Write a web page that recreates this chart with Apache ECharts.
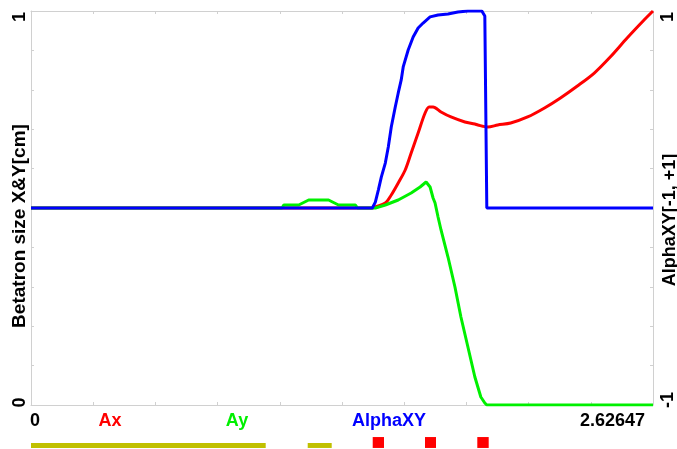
<!DOCTYPE html>
<html><head><meta charset="utf-8">
<script src="https://cdn.jsdelivr.net/npm/echarts@6/dist/echarts.min.js"></script>
<style>html,body{margin:0;padding:0;background:#fff}#c{width:677px;height:449px}</style>
</head><body><div id="c"></div>
<script>
// ---- data ----
const xMax = 2.62647;
// Ax (left axis, 0..1)
const axTrack = [[0,0.5],[1.4414,0.5],[1.4540,0.5025],[1.4961,0.5127],[1.5213,0.5330],[1.5507,0.5635],[1.5801,0.5964],[1.6053,0.6396],[1.6347,0.6904],[1.6641,0.7411],[1.6810,0.7563],[1.6978,0.7563],[1.7314,0.7437],[1.7734,0.7310],[1.8322,0.7183],[1.8743,0.7132],[1.8869,0.7107],[1.9289,0.7056],[1.9709,0.7107],[2.0256,0.7157],[2.0970,0.7310],[2.1684,0.7538],[2.2357,0.7792],[2.3071,0.8096],[2.3785,0.8426],[2.4458,0.8832],[2.5172,0.9315],[2.5887,0.9772],[2.62647,1.0]];
// Ay (left axis, 0..1)
const ayTrack = [[0,0.5],[1.0600,0.5],[1.0674,0.5076],[1.1304,0.5076],[1.1725,0.5203],[1.2565,0.5203],[1.2985,0.5076],[1.3700,0.5076],[1.3784,0.5],[1.4540,0.5],[1.4961,0.5076],[1.5507,0.5203],[1.6053,0.5381],[1.6431,0.5533],[1.6684,0.5660],[1.6852,0.5533],[1.6978,0.5254],[1.7062,0.5127],[1.7188,0.4772],[1.7314,0.4442],[1.7608,0.3756],[1.7902,0.2995],[1.8154,0.2234],[1.8449,0.1472],[1.8743,0.0711],[1.8995,0.0203],[1.9163,0.0051],[1.9247,0],[2.62647,0]];
// AlphaXY (right axis, -1..1)
const alphaXYTrack = [[0,0],[1.4414,0],[1.4540,0.030],[1.4666,0.091],[1.4792,0.157],[1.4961,0.228],[1.5087,0.310],[1.5213,0.411],[1.5381,0.513],[1.5507,0.584],[1.5633,0.650],[1.5717,0.716],[1.5927,0.802],[1.6137,0.868],[1.6347,0.914],[1.6557,0.939],[1.6852,0.970],[1.7188,0.980],[1.7608,0.985],[1.8028,0.995],[1.8449,1.0],[1.9037,1.0],[1.9163,0.975],[1.9247,0],[2.62647,0]];
const leftTickLabels = ['0','1'];
const rightTickLabels = ['-1','1'];
const bottomLabels = ['0','Ax','Ay','AlphaXY','2.62647'];
const leftAxisName = 'Betatron size X&Y[cm]';
const rightAxisName = 'AlphaXY[-1, +1]';
// lattice elements along the beamline
const latticeStart = [0, 1.1628, 1.4360, 1.6557, 1.8755];
const latticeEnd   = [0.9863, 1.2637, 1.4834, 1.7020, 1.9234];
const latticeKind  = [0, 0, 1, 1, 1];

// ---- chart ----
const FONT = '"Liberation Sans", Arial, sans-serif';
const gray = '#d0d0d0';
const chart = echarts.init(document.getElementById('c'), null, {renderer:'canvas'});
function frameAxis(extra){
  return Object.assign({
    type:'value', splitLine:{show:false},
    axisLine:{show:true, onZero:false, lineStyle:{color:gray, width:1}},
    axisTick:{show:true, inside:true, length:3, lineStyle:{color:gray}},
    axisLabel:{show:false}
  }, extra);
}
const labelStyle = {fontFamily:FONT, fontWeight:'bold', fontSize:18, color:'#000'};
const latticeData = latticeStart.map((s,i)=>[s, latticeEnd[i], latticeKind[i]]);
const GREEN = '#00f000';

chart.setOption({
  animation:false,
  backgroundColor:'#fff',
  grid:[
    {left:31, right:21, top:11, bottom:44},
    {left:31, right:21, top:436, height:13}
  ],
  xAxis:[
    frameAxis({gridIndex:0, position:'bottom', min:0, max:xMax, interval:xMax/10}),
    frameAxis({gridIndex:0, position:'top', min:0, max:xMax, interval:xMax/10}),
    {type:'value', gridIndex:1, min:0, max:xMax, show:false}
  ],
  yAxis:[
    frameAxis({gridIndex:0, position:'left', min:0, max:1, interval:0.1,
      axisLabel:{show:true, rotate:90, margin:2, showMinLabel:true, showMaxLabel:true,
        formatter:v=> Math.abs(v-1)<1e-9 ? '{t|'+leftTickLabels[1]+'}' : (Math.abs(v)<1e-9 ? '{b|'+leftTickLabels[0]+'}' : ''),
        rich:{t:Object.assign({padding:[0,12,0,0]},labelStyle), b:Object.assign({padding:[0,0,0,5]},labelStyle)}}}),
    frameAxis({gridIndex:0, position:'right', min:-1, max:1, interval:0.2,
      axisLabel:{show:true, rotate:90, margin:6, showMinLabel:true, showMaxLabel:true,
        formatter:v=> Math.abs(v-1)<1e-9 ? '{t|'+rightTickLabels[1]+'}' : (Math.abs(v+1)<1e-9 ? '{b|'+rightTickLabels[0]+'}' : ''),
        rich:{t:Object.assign({padding:[0,12,0,0]},labelStyle), b:Object.assign({padding:[0,0,0,10]},labelStyle)}}}),
    {type:'value', gridIndex:1, min:0, max:1, show:false}
  ],
  series:[
    {type:'line', name:'Ax', xAxisIndex:0, yAxisIndex:0, data:axTrack, showSymbol:false, symbol:'none',
      smooth:0.3,
      lineStyle:{color:'#ff0000', width:3}, itemStyle:{color:'#ff0000'}, z:2},
    {type:'line', name:'Ay', xAxisIndex:0, yAxisIndex:0, data:ayTrack, showSymbol:false, symbol:'none',
      lineStyle:{color:GREEN, width:3}, itemStyle:{color:GREEN}, z:3},
    {type:'line', name:'AlphaXY', xAxisIndex:0, yAxisIndex:1, data:alphaXYTrack, showSymbol:false, symbol:'none',
      lineStyle:{color:'#0000ff', width:3}, itemStyle:{color:'#0000ff'}, z:4},
    {type:'custom', name:'lattice', xAxisIndex:2, yAxisIndex:2, data:latticeData, clip:false,
      renderItem:function(params, api){
        const s = api.value(0), e = api.value(1), k = api.value(2);
        const lo = 0.08, hi = k===1 ? 0.92 : 0.46;
        const p0 = api.coord([s, hi]), p1 = api.coord([e, lo]);
        return {type:'rect', shape:{x:p0[0], y:p0[1], width:p1[0]-p0[0], height:p1[1]-p0[1]},
          style:{fill: k===1 ? '#ff0000' : '#c0c000'}};
      }}
  ],
  graphic:[
    {type:'text', x:30, y:421.5, style:{text:bottomLabels[0], align:'left', verticalAlign:'middle', font:'bold 18px '+FONT, fill:'#000'}},
    {type:'text', x:110, y:421.5, style:{text:bottomLabels[1], align:'center', verticalAlign:'middle', font:'bold 18px '+FONT, fill:'#ff0000'}},
    {type:'text', x:237, y:421.5, style:{text:bottomLabels[2], align:'center', verticalAlign:'middle', font:'bold 18px '+FONT, fill:GREEN}},
    {type:'text', x:389, y:421.5, style:{text:bottomLabels[3], align:'center', verticalAlign:'middle', font:'bold 18px '+FONT, fill:'#0000ff'}},
    {type:'text', x:645, y:421.5, style:{text:bottomLabels[4], align:'right', verticalAlign:'middle', font:'bold 18px '+FONT, fill:'#000'}},
    {type:'text', x:20, y:226, rotation:Math.PI/2, style:{text:leftAxisName, align:'center', verticalAlign:'middle', font:'bold 19px '+FONT, fill:'#000'}},
    {type:'text', x:670, y:220, rotation:Math.PI/2, style:{text:rightAxisName, align:'center', verticalAlign:'middle', font:'bold 18px '+FONT, fill:'#000'}}
  ]
});
</script>
</body></html>
